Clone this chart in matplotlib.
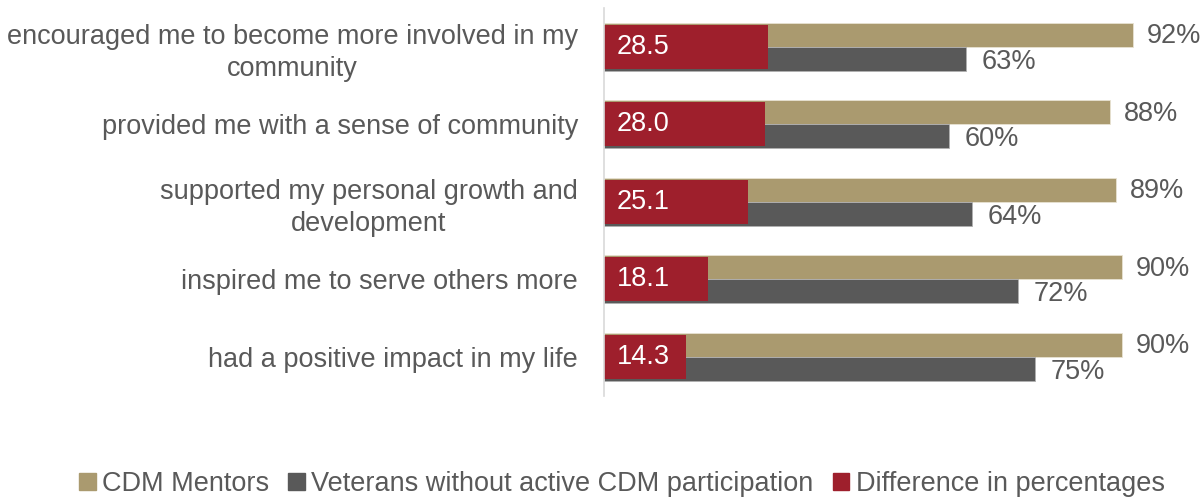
import matplotlib
matplotlib.use("Agg")
import matplotlib.pyplot as plt
from matplotlib.patches import Patch

categories = [
    "encouraged me to become more involved in my\ncommunity",
    "provided me with a sense of community",
    "supported my personal growth and\ndevelopment",
    "inspired me to serve others more",
    "had a positive impact in my life",
]
mentors = [92, 88, 89, 90, 90]
veterans = [63, 60, 64, 72, 75]
difference = [28.5, 28.0, 25.1, 18.1, 14.3]

series_names = ["CDM Mentors", "Veterans without active CDM participation", "Difference in percentages"]
colors = ["#AA9A6F", "#595959", "#9E1F2C"]
text_color = "#595959"

plt.rcParams["font.family"] = ["Liberation Sans", "DejaVu Sans"]

fig = plt.figure(figsize=(12.01, 4.98), dpi=100)
ax = fig.add_axes([604 / 1201, 1 - 395.5 / 498, 575 / 1201, 387.5 / 498])

y = list(range(len(categories)))
bh = 0.31
ax.barh([v - bh / 2 for v in y], mentors, height=bh, color=colors[0],
        edgecolor="#E8E2D2", linewidth=0.6)
ax.barh([v + bh / 2 for v in y], veterans, height=bh, color=colors[1],
        edgecolor="#B0B0B0", linewidth=0.6)
ax.barh(y, difference, height=0.57, color=colors[2])

fs = 19.5
for yi, m, v, d in zip(y, mentors, veterans, difference):
    ax.annotate(f"{m}%", (m, yi - bh / 2), xytext=(10, -1), textcoords="offset points",
                ha="left", va="center", fontsize=fs, color=text_color)
    ax.annotate(f"{v}%", (v, yi + bh / 2), xytext=(11, -2), textcoords="offset points",
                ha="left", va="center", fontsize=fs, color=text_color)
    ax.annotate(f"{d:.1f}", (0, yi), xytext=(9, 0), textcoords="offset points",
                ha="left", va="center", fontsize=fs, color="white")

ax.set_xlim(0, 100)
ax.set_ylim(len(categories) - 0.5, -0.5)
ax.set_yticks(y)
ax.set_yticklabels(categories, fontsize=fs, color=text_color, ha="center",
                   multialignment="center", linespacing=1.3)
ax.tick_params(axis="y", length=0, pad=0)
ax.set_xticks([])
for s in ["top", "right", "bottom"]:
    ax.spines[s].set_visible(False)
ax.spines["left"].set_color("#D9D9D9")
ax.spines["left"].set_linewidth(1.2)

fig.canvas.draw()
# right-align the label blocks against the axis while keeping each block centred
renderer = fig.canvas.get_renderer()
for lbl in ax.get_yticklabels():
    bb = lbl.get_window_extent(renderer)
    shift_px = 578 - bb.x1
    lbl.set_transform(lbl.get_transform() + matplotlib.transforms.Affine2D().translate(shift_px, 0))

handles = [Patch(color=c) for c in colors]
fig.legend(handles, series_names, loc="center", bbox_to_anchor=(622 / 1201, 1 - 484 / 498),
           ncol=3, frameon=False, fontsize=fs, handlelength=0.6, handleheight=0.6,
           handletextpad=0.25, columnspacing=0.7, labelcolor=text_color)

fig.savefig("out.png", dpi=100)
